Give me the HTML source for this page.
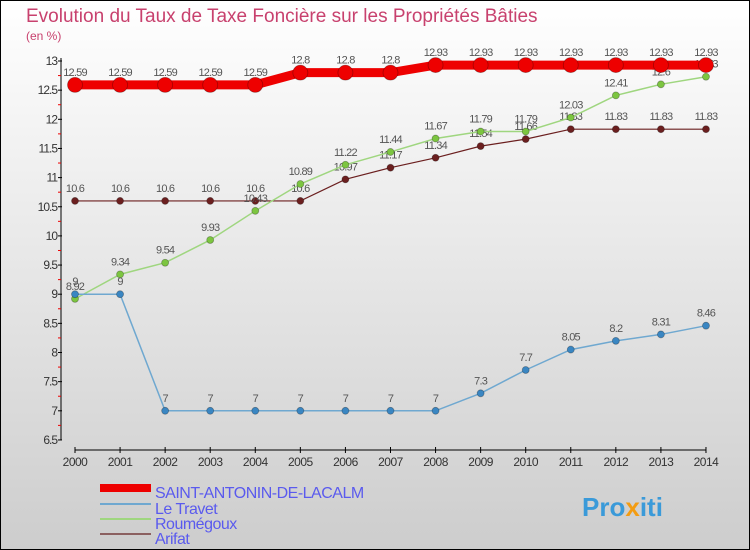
<!DOCTYPE html>
<html><head><meta charset="utf-8"><style>
body{margin:0;width:750px;height:550px;overflow:hidden;font-family:"Liberation Sans",sans-serif}
svg{display:block}
</style></head><body>
<svg id="c" width="750" height="550">
<defs><linearGradient id="bg" x1="0" y1="0" x2="0" y2="1"><stop offset="0" stop-color="#ffffff"/><stop offset="1" stop-color="#cdcdcd"/></linearGradient></defs>
<rect x="0.5" y="0.5" width="749" height="549" fill="url(#bg)" stroke="#000"/>
<text x="26" y="22" font-size="19" fill="#c8416e">Evolution du Taux de Taxe Foncière sur les Propriétés Bâties</text>
<text x="26" y="40" font-size="12" fill="#c8416e">(en %)</text>
<g id="axes"></g><g id="series"></g><g id="legend"></g>
<text x="582" y="516" font-size="26" font-weight="bold" fill="#3a9ad9">Pro<tspan fill="#f39c12">x</tspan>iti</text>
</svg>
<script>
const years=[2000,2001,2002,2003,2004,2005,2006,2007,2008,2009,2010,2011,2012,2013,2014];
const saint=[12.59,12.59,12.59,12.59,12.59,12.8,12.8,12.8,12.93,12.93,12.93,12.93,12.93,12.93,12.93];
const travet=[9,9,7,7,7,7,7,7,7,7.3,7.7,8.05,8.2,8.31,8.46];
const roum=[8.92,9.34,9.54,9.93,10.43,10.89,11.22,11.44,11.67,11.79,11.79,12.03,12.41,12.6,12.73];
const arifat=[10.6,10.6,10.6,10.6,10.6,10.6,10.97,11.17,11.34,11.54,11.66,11.83,11.83,11.83,11.83];
const yTicks=[6.5,7,7.5,8,8.5,9,9.5,10,10.5,11,11.5,12,12.5,13];
const names=["SAINT-ANTONIN-DE-LACALM","Le Travet","Roumégoux","Arifat"];
const NS="http://www.w3.org/2000/svg";
const X=i=>75+i*45.07, Y=v=>61+(13-v)*58.3;
function mk(p,t,a){const e=document.createElementNS(NS,t);for(const k in a)e.setAttribute(k,a[k]);p.appendChild(e);return e;}
const ax=document.getElementById('axes');
let l=mk(ax,'line',{x1:61,y1:58,x2:61,y2:440,stroke:'#000'});

l=mk(ax,'line',{x1:75,y1:450,x2:706,y2:450,stroke:'#000'});

yTicks.forEach(v=>{mk(ax,'line',{x1:58,x2:62,y1:Y(v),y2:Y(v),stroke:'#000'});
 if(v<13)mk(ax,'line',{x1:58,x2:61,y1:Y(v+0.25),y2:Y(v+0.25),stroke:'#e00'});
 const t=mk(ax,'text',{x:57,y:Y(v)+4,'font-size':12,'text-anchor':'end',fill:'#333','letter-spacing':'-1'});t.textContent=String(v);
 });
years.forEach((y,i)=>{mk(ax,'line',{x1:X(i),x2:X(i),y1:447,y2:453,stroke:'#000'});
 const t=mk(ax,'text',{x:X(i),y:466,'font-size':12,'text-anchor':'middle',fill:'#333','letter-spacing':'-0.5'});t.textContent=y;
 });
const sg=document.getElementById('series');
const defs=[[arifat,'#6b1f1f','#6b1f1f',1.2,3.5],[roum,'#9fd67f','#7cc540',1.5,3.5],[travet,'#6fa8d0','#3a86c2',1.5,3.5],[saint,'#ee0000','#ee0000',9,7.5]];
const keys=['arifat','roumegoux','le-travet','saint-antonin'];
defs.forEach(([d,lc,pc,w,r],k)=>{
 const pl=mk(sg,'polyline',{points:d.map((v,i)=>X(i)+','+Y(v)).join(' '),fill:'none',stroke:lc,'stroke-width':w});
 
 d.forEach((v,i)=>{const c=mk(sg,'circle',{cx:X(i),cy:Y(v),r:r,fill:pc,stroke:'rgba(0,0,0,0.3)','stroke-width':0.8});
  
  const t=mk(sg,'text',{x:X(i),y:Y(v)-9,'font-size':11,'text-anchor':'middle',fill:'#555','letter-spacing':'-0.8'});t.textContent=String(v);
  });
});
const lg=document.getElementById('legend');
const lcol=['#ee0000','#6fa8d0','#9fd67f','#8b6060'],lw=[8,2,2,2],ly=[492,508,523,538];
names.forEach((n,i)=>{const ln=mk(lg,'line',{x1:100,x2:151,y1:ly[i]-4,y2:ly[i]-4,stroke:lcol[i],'stroke-width':lw[i]});
 
 const t=mk(lg,'text',{x:155,y:ly[i]+6,'font-size':16,fill:'#5a5aee','letter-spacing':'-0.5'});t.textContent=n;
 });
</script>
</body></html>
